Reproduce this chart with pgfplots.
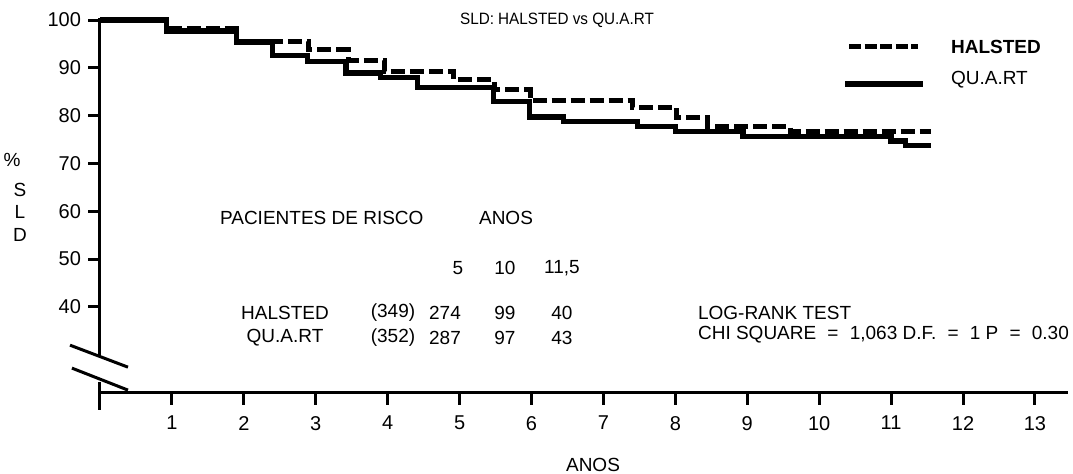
\documentclass[border=0pt]{standalone}
\usepackage{fontspec}
\setmainfont{Liberation Sans}
\usepackage{graphicx}
\usepackage{pgfplots}
\pgfplotsset{compat=1.18}
\newcommand{\eq}{\hspace{5.6pt}=\hspace{5.6pt}}
\begin{document}
\begin{tikzpicture}[x=1pt,y=1pt,font=\fontsize{9.5}{11}\selectfont]
\useasboundingbox (0pt,0pt) rectangle (536.5pt,237pt);
\begin{axis}[
  at={(50pt,40.5pt)}, anchor=south west,
  scale only axis, width=484pt, height=186.5pt,
  xmin=0, xmax=13.46, ymin=22, ymax=100,
  axis x line*=bottom, axis y line*=left,
  x axis line style={line width=1.5pt,-},
  y axis line style={draw=none},
  xtick={1,2,3,4,5,6,7,8,9,10,11,12,13},
  ytick={40,50,60,70,80,90,100},
  tick align=outside, major tick length=6pt,
  tick style={line width=1.5pt,black},
  xticklabel style={yshift=-2pt},
  ticklabel style={font=\fontsize{10}{12}\selectfont},
  /pgf/number format/assume math mode=true,
  clip=false,
]
% HALSTED
\addplot[const plot, black, line width=2.5pt, dash pattern=on 7pt off 2.5pt] coordinates {
(0,100) (0.93,98.3) (1.9,95.6) (2.9,93.8) (3.45,91.6) (3.95,89.3) (4.92,87.5) (5.48,85.4) (5.98,83.2) (7.4,81.7) (8.02,79.6) (8.45,77.7) (9.6,76.7) (11.55,76.7)};
% QU.A.RT
\addplot[const plot, black, line width=2.6pt] coordinates {
(0,100) (0.93,97.7) (1.9,95.4) (2.4,92.6) (2.88,91.3) (3.42,88.9) (3.9,87.9) (4.42,85.9) (5.47,83.0) (5.97,79.7) (6.44,78.7) (7.47,77.7) (8.0,76.6) (8.94,75.7) (11.0,74.7) (11.2,73.8) (11.55,73.8)};
% y axis with break
\draw[line width=1.5pt] (axis cs:0,100.4) -- (axis cs:0,29.9);
\draw[line width=1.5pt] (axis cs:0,24.3) -- ([yshift=-8.5pt]axis cs:0,22);
\draw[line width=1.5pt] (axis cs:-0.417,32.0) -- (axis cs:0.389,27.4);
\draw[line width=1.5pt] (axis cs:-0.39,27.2) -- (axis cs:0.389,22.6);
\end{axis}
% legend
\draw[line width=2.5pt, dash pattern=on 6pt off 1.8pt] (424.5pt,213.5pt) -- (459pt,213.5pt);
\draw[line width=2.6pt] (422.5pt,195pt) -- (461.5pt,195pt);
\node[anchor=west] at (472pt,213.5pt) {\bfseries HALSTED};
\node[anchor=west] at (472pt,197pt) {QU.A.RT};
% title
\node at (278.5pt,227pt) {\scalebox{0.93}[1]{\fontsize{8.2}{10}\selectfont SLD: HALSTED vs QU.A.RT}};
% y label
\node at (6pt,157pt) {\%};
\node at (10pt,142pt) {S};
\node at (10pt,131pt) {L};
\node at (10pt,119.5pt) {D};
% table
\node[anchor=west] at (106.5pt,128pt) {PACIENTES DE RISCO};
\node at (253pt,128pt) {ANOS};
\node at (229pt,103pt) {5};
\node at (252.5pt,103pt) {10};
\node at (281pt,103pt) {11,5};
\node at (142.5pt,80.5pt) {HALSTED};
\node at (196.5pt,80.5pt) {(349)};
\node at (222.5pt,80.5pt) {274};
\node at (252.5pt,80.5pt) {99};
\node at (281pt,80.5pt) {40};
\node at (142.5pt,68pt) {QU.A.RT};
\node at (196.5pt,68pt) {(352)};
\node at (222.5pt,68pt) {287};
\node at (252.5pt,68pt) {97};
\node at (281pt,68pt) {43};
\node[anchor=west] at (345.5pt,80.5pt) {LOG-RANK TEST};
\node[anchor=west] at (345.5pt,69.5pt) {CHI SQUARE\eq 1,063 D.F.\eq 1 P\eq 0.30};
% x label
\node at (296.5pt,4.5pt) {ANOS};
\end{tikzpicture}
\end{document}
